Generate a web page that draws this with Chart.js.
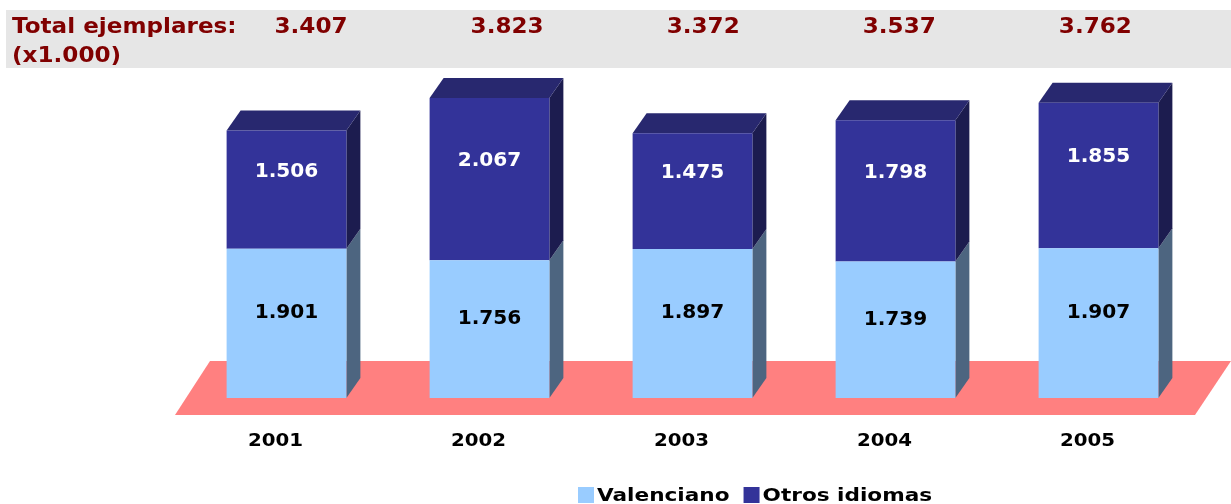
<!DOCTYPE html>
<html lang="es">
<head>
<meta charset="UTF-8">
<title>Total ejemplares</title>
<script src="https://cdn.jsdelivr.net/npm/chart.js"></script>
<style>
    html, body { margin: 0; padding: 0; background: #fff; }
    #wrap { width: 1231px; height: 504px; }
</style>
</head>
<body>
<div id="wrap"><canvas id="myChart" width="1231" height="504"></canvas></div>
<script>
// datos
const years = ['2001', '2002', '2003', '2004', '2005'];
const valenciano = [1901, 1756, 1897, 1739, 1907];
const otros = [1506, 2067, 1475, 1798, 1855];
const seriesNames = ['Valenciano', 'Otros idiomas'];

const frontColors = ['#99CCFF', '#333399'];
const sideColors = ['#4D6580', '#1C1C4F'];
const topColor = '#28286F';
const DX = 14, DY = -20;   // profundidad 3D

function fmt(n) {
    return String(n).replace(/\B(?=(\d{3})+(?!\d))/g, '.');
}

function poly(ctx, pts, color) {
    ctx.beginPath();
    ctx.moveTo(pts[0][0], pts[0][1]);
    for (let i = 1; i < pts.length; i++) ctx.lineTo(pts[i][0], pts[i][1]);
    ctx.closePath();
    ctx.fillStyle = color;
    ctx.fill();
}

// texto con estiramiento horizontal (sx)
function txt(ctx, s, x, y, font, color, align, sx, base) {
    ctx.save();
    ctx.font = font;
    ctx.fillStyle = color;
    ctx.textAlign = align || 'left';
    ctx.textBaseline = base || 'alphabetic';
    ctx.translate(x, y);
    ctx.scale(sx || 1, 1);
    ctx.fillText(s, 0, 0);
    const w = ctx.measureText(s).width * (sx || 1);
    ctx.restore();
    return w;
}

const deco = {
    id: 'deco',
    beforeDatasetsDraw(chart) {
        const ctx = chart.ctx;
        const a = chart.chartArea;
        const y0 = chart.scales.y.getPixelForValue(0);
        // cabecera
        ctx.fillStyle = '#E6E6E6';
        ctx.fillRect(6, 10, chart.width - 6, 58);
        const f = 'bold 22px "DejaVu Sans"';
        txt(ctx, 'Total ejemplares:', 12, 33, f, '#800000', 'left', 1.05);
        txt(ctx, '(x1.000)', 12, 62, f, '#800000', 'left', 1.05);
        const meta0 = chart.getDatasetMeta(0);
        const first = meta0.data[0].x;
        meta0.data.forEach((bar, i) => {
            const total = valenciano[i] + otros[i];
            const tx = 311 + (bar.x - first) * 0.966;
            txt(ctx, fmt(total), tx, 33, f, '#800000', 'center', 1.05);
        });
        // suelo
        poly(ctx, [[a.left - 10, y0 + 17], [a.left + 25, y0 - 37],
                   [a.right + 31, y0 - 37], [a.right - 5, y0 + 17]], '#FF8080');
        // caras laterales y superior
        chart.data.datasets.forEach((ds, di) => {
            const meta = chart.getDatasetMeta(di);
            meta.data.forEach(bar => {
                const r = bar.x + bar.width / 2;
                const l = bar.x - bar.width / 2;
                poly(ctx, [[r, bar.y], [r + DX, bar.y + DY], [r + DX, bar.base + DY], [r, bar.base]], sideColors[di]);
                if (di === chart.data.datasets.length - 1) {
                    poly(ctx, [[l, bar.y], [l + DX, bar.y + DY], [r + DX, bar.y + DY], [r, bar.y]], topColor);
                }
            });
        });
    },
    afterDatasetsDraw(chart) {
        const ctx = chart.ctx;
        const f = 'bold 19px "DejaVu Sans"';
        const offs = [-10, -18];
        const cols = ['#000000', '#FFFFFF'];
        chart.data.datasets.forEach((ds, di) => {
            const meta = chart.getDatasetMeta(di);
            meta.data.forEach((bar, i) => {
                const cy = (bar.y + bar.base) / 2 + offs[di];
                txt(ctx, fmt(ds.data[i]), bar.x, cy, f, cols[di], 'center', 1.06, 'middle');
            });
        });
        // etiquetas de categoria
        const y0 = chart.scales.y.getPixelForValue(0);
        chart.getDatasetMeta(0).data.forEach((bar, i) => {
            txt(ctx, years[i], bar.x - 11, y0 + 48, 'bold 18px "DejaVu Sans"', '#000', 'center', 1.1);
        });
        // leyenda
        const lf = 'bold 18px "DejaVu Sans"';
        let x = 578;
        seriesNames.forEach((name, i) => {
            ctx.fillStyle = frontColors[i];
            ctx.fillRect(x, 487, 16, 16);
            const w = txt(ctx, name, x + 19, 501, lf, '#000', 'left', 1.2);
            x += 19 + w + 14;
        });
    }
};

new Chart(document.getElementById('myChart'), {
    type: 'bar',
    data: {
        labels: years,
        datasets: [
            { label: seriesNames[0], data: valenciano, backgroundColor: frontColors[0], borderWidth: 0 },
            { label: seriesNames[1], data: otros, backgroundColor: frontColors[1], borderWidth: 0 }
        ]
    },
    options: {
        responsive: false,
        animation: false,
        layout: { padding: { left: 185, right: 31, top: 84, bottom: 106 } },
        datasets: { bar: { categoryPercentage: 1, barPercentage: 0.59 } },
        scales: {
            x: { stacked: true, display: false },
            y: { stacked: true, display: false, min: 0, max: 4000 }
        },
        plugins: {
            legend: { display: false },
            tooltip: { enabled: false }
        }
    },
    plugins: [deco]
});
</script>
</body>
</html>
